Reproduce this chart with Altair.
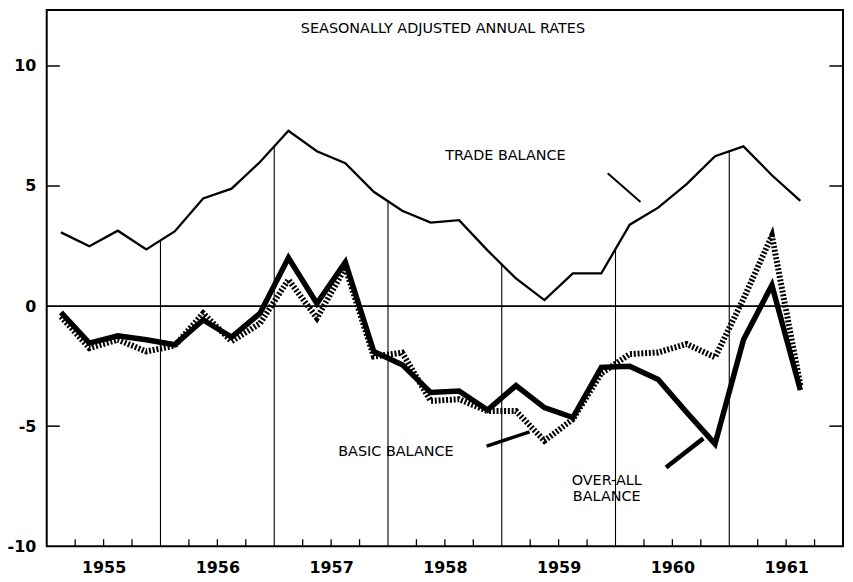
import altair as alt
import pandas as pd

# ---- data (quarterly, 1955 Q1 .. 1961 Q3), billions of dollars, seasonally adjusted annual rates
trade_balance = [3.07, 2.49, 3.14, 2.36, 3.11, 4.48, 4.89, 6.0, 7.3, 6.45, 5.95, 4.76,
                 3.97, 3.48, 3.58, 2.32, 1.15, 0.25, 1.36, 1.36, 3.39, 4.1, 5.08, 6.24,
                 6.65, 5.45, 4.38]
overall_balance = [-0.26, -1.54, -1.24, -1.40, -1.61, -0.58, -1.29, -0.30, 2.01, 0.11, 1.83, -1.89,
                   -2.44, -3.6, -3.54, -4.33, -3.31, -4.23, -4.64, -2.55, -2.51, -3.06, -4.42, -5.74,
                   -1.40, 0.87, -3.5]
basic_balance = [-0.44, -1.75, -1.40, -1.89, -1.65, -0.30, -1.47, -0.72, 1.1, -0.5, 1.6, -2.1,
                 -1.94, -3.95, -3.88, -4.37, -4.37, -5.61, -4.71, -2.8, -2.0, -1.93, -1.58, -2.13,
                 0.3, 2.93, -3.3]
start_year = 1955
years = [1955, 1956, 1957, 1958, 1959, 1960, 1961]
y_ticks = [10, 5, -5]
y_labels = [-10, -5, 0, 5, 10]

ann_text = ["SEASONALLY ADJUSTED ANNUAL RATES", "TRADE BALANCE", "BASIC BALANCE", "OVER-ALL", "BALANCE"]
ann_x = [1958.483, 1959.032, 1958.070, 1959.923, 1959.923]
ann_y = [11.53, 6.27, -6.09, -7.30, -7.97]
ann_size = [14.5, 14.5, 14.5, 14.5, 14.5]

ptr_x = [1959.931, 1958.867, 1960.444]
ptr_y = [5.53, -5.83, -6.72]
ptr_x2 = [1960.220, 1959.245, 1960.772]
ptr_y2 = [4.34, -5.24, -5.51]
ptr_w = [2.0, 3.5, 4.5]

FONT = "DejaVu Sans"
YMIN, YMAX = -10, 12.33
XMIN, XMAX = 1955, 1962

n = len(trade_balance)
t = [start_year + (i + 0.5) / 4 for i in range(n)]

rows = []
for name, vals in [("Trade", trade_balance), ("Overall", overall_balance), ("Basic", basic_balance)]:
    for ti, v in zip(t, vals):
        rows.append({"t": ti, "v": v, "series": name})
df = pd.DataFrame(rows)

# drop lines from trade balance curve at year boundaries
drop = pd.DataFrame({
    "t": [start_year + k for k in range(1, 7)],
    "v": [(trade_balance[4 * k - 1] + trade_balance[4 * k]) / 2 for k in range(1, 7)],
    "b": [YMIN] * 6,
})

# quarter ticks (not at year boundaries)
qt = pd.DataFrame({"t": [y + q / 4 for y in years for q in (1, 2, 3)]})
qt["v"] = YMIN
qt["v2"] = YMIN + 0.29

# inward y ticks on both borders
lt = pd.DataFrame({"v": y_ticks, "t": [XMIN] * 3, "t2": [XMIN + 0.115] * 3})
rt = pd.DataFrame({"v": y_ticks, "t": [XMAX - 0.12] * 3, "t2": [XMAX] * 3})

xs = alt.Scale(domain=[XMIN, XMAX], nice=False, zero=False)
ys = alt.Scale(domain=[YMIN, YMAX], nice=False, zero=False)

x_axis = alt.Axis(values=[y + 0.5 for y in years], labelExpr="floor(datum.value)",
                  ticks=False, domain=False, grid=False, labelFontSize=16, labelFont=FONT,
                  labelFontWeight="bold", labelColor="black", labelPadding=13, title=None)
y_axis = alt.Axis(values=y_labels, ticks=False, domain=False, grid=False, labelFontSize=16,
                  labelFont=FONT, labelFontWeight="bold", labelColor="black", labelPadding=11,
                  labelExpr="datum.value < 0 ? '-' + abs(datum.value) : '' + datum.value",
                  title=None)


def X(f):
    return alt.X(f, type="quantitative", scale=xs, axis=x_axis, title=None)


def Y(f):
    return alt.Y(f, type="quantitative", scale=ys, axis=y_axis, title=None)


drops = alt.Chart(drop).mark_rule(color="black", strokeWidth=1.1).encode(
    x=X("t"), y=Y("v"), y2="b:Q")

zero = alt.Chart(pd.DataFrame({"v": [0]})).mark_rule(color="black", strokeWidth=1.8).encode(
    y=Y("v"))

qticks = alt.Chart(qt).mark_rule(color="black", strokeWidth=1.3).encode(
    x=X("t"), y=Y("v"), y2="v2:Q")

lticks = alt.Chart(lt).mark_rule(color="black", strokeWidth=1.5).encode(
    y=Y("v"), x=X("t"), x2="t2:Q")
rticks = alt.Chart(rt).mark_rule(color="black", strokeWidth=1.5).encode(
    y=Y("v"), x=X("t"), x2="t2:Q")

trade = alt.Chart(df[df.series == "Trade"]).mark_line(color="black", strokeWidth=2.3).encode(
    x=X("t"), y=Y("v"))
overall = alt.Chart(df[df.series == "Overall"]).mark_line(
    color="black", strokeWidth=5.5, strokeJoin="miter").encode(x=X("t"), y=Y("v"))
basic = alt.Chart(df[df.series == "Basic"]).mark_line(
    color="black", strokeWidth=6, strokeDash=[2, 1.8], strokeCap="butt").encode(x=X("t"), y=Y("v"))

ann = pd.DataFrame({"text": ann_text, "t": ann_x, "v": ann_y, "size": ann_size})
texts = alt.Chart(ann).mark_text(font=FONT, color="black", align="center", baseline="middle").encode(
    x=X("t"), y=Y("v"), text="text:N", size=alt.Size("size:Q", scale=None, legend=None))

ptr = pd.DataFrame({"t": ptr_x, "v": ptr_y, "t2": ptr_x2, "v2": ptr_y2, "w": ptr_w})
pointers = alt.Chart(ptr).mark_rule(color="black", strokeCap="butt").encode(
    x=X("t"), y=Y("v"), x2="t2:Q", y2="v2:Q",
    strokeWidth=alt.StrokeWidth("w:Q", scale=None, legend=None))

chart = alt.layer(drops, zero, qticks, lticks, rticks, trade, overall, basic, texts, pointers).properties(
    width=802, height=540,
    autosize=alt.AutoSizeParams(type="none"),
    padding={"left": 39, "top": 0, "right": 2, "bottom": 32},
    background="white",
).configure_view(stroke="black", strokeWidth=2)

chart.save("out.html", embed_options={"renderer": "svg", "actions": False})
